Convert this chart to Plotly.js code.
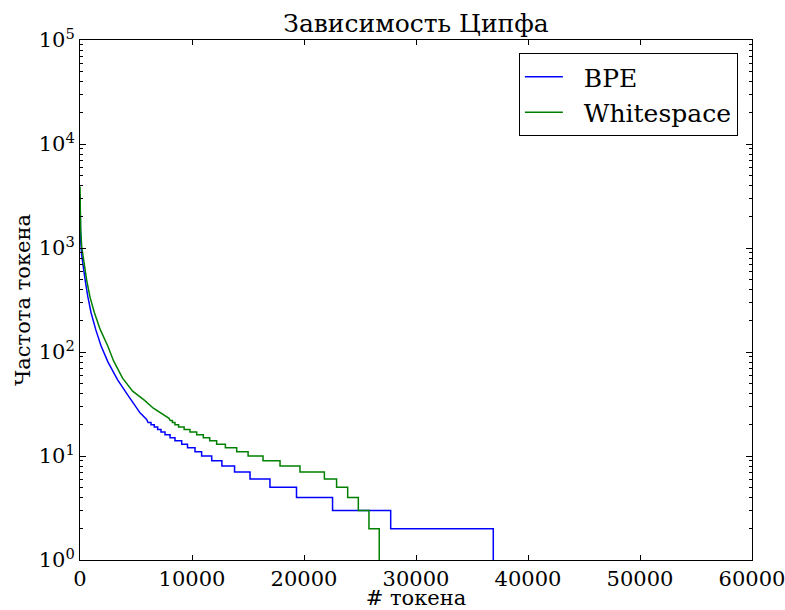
<!DOCTYPE html>
<html><head><meta charset="utf-8">
<script src="https://cdn.plot.ly/plotly-3.0.1.min.js"></script>
<style>body{margin:0;background:#fff}</style>
</head><body><div id="chart" style="width:785px;height:610px"></div>
<script>
// BPE: smooth head (rank, frequency) then integer frequency steps
const bpeHeadRank = [1, 5, 20, 60, 150, 300, 475, 700, 982, 1400, 1875, 2500, 3360, 4300, 5360, 5950];
const bpeHeadFreq = [3300, 2600, 1800, 1200, 850, 620, 480, 340, 240, 165, 115, 80, 54, 38, 26, 22.5];
const bpeStepLevel = [21, 20, 19, 18, 17, 16, 15, 14, 13, 12, 11, 10, 9, 8, 7, 6, 5, 4, 3, 2];
const bpeStepStart = [6080, 6340, 6630, 6930, 7230, 7590, 8040, 8480, 9080, 9600, 10270, 10860, 11760, 12670, 13800, 15180, 16960, 19330, 22550, 27740];
const bpeLastRank = 36900;

// Whitespace
const wsHeadRank = [1, 5, 20, 60, 150, 350, 595, 900, 1280, 1800, 2470, 3000, 3800, 4700, 5740, 6550, 7500, 7950];
const wsHeadFreq = [3900, 3000, 2100, 1500, 1030, 700, 492, 335, 240, 165, 115, 82, 56, 42, 34.5, 28.8, 24.5, 23];
const wsStepLevel = [22, 21, 20, 19, 18, 17, 16, 15, 14, 13, 12, 11, 10, 9, 8, 7, 6, 5, 4, 3, 2];
const wsStepStart = [8050, 8250, 8480, 8800, 9300, 9820, 10420, 11010, 11580, 12200, 12980, 13990, 15010, 16340, 17860, 19640, 21820, 22910, 23900, 24850, 25800];
const wsLastRank = 26720;

const seriesNames = ['BPE', 'Whitespace'];
const xTickVals = [0, 10000, 20000, 30000, 40000, 50000, 60000];
const xTickText = ['0', '10000', '20000', '30000', '40000', '50000', '60000'];
const yTickVals = [1, 10, 100, 1000, 10000, 100000];
const yTickText = ['10<sup>0</sup>', '10<sup>1</sup>', '10<sup>2</sup>', '10<sup>3</sup>', '10<sup>4</sup>', '10<sup>5</sup>'];

function buildSeries(headRank, headFreq, stepLevel, stepStart, lastRank) {
  const x = headRank.slice(), y = headFreq.slice();
  for (let i = 0; i < stepLevel.length; i++) {
    const end = i + 1 < stepLevel.length ? stepStart[i + 1] : lastRank;
    x.push(stepStart[i], end); y.push(stepLevel[i], stepLevel[i]);
  }
  x.push(lastRank); y.push(1);
  return {x, y};
}

const bpe = buildSeries(bpeHeadRank, bpeHeadFreq, bpeStepLevel, bpeStepStart, bpeLastRank);
const ws = buildSeries(wsHeadRank, wsHeadFreq, wsStepLevel, wsStepStart, wsLastRank);

const FONT = '"DejaVu Serif", serif';
const PAD = '\u00a0\u00a0';

const traces = [
  {x: bpe.x, y: bpe.y, name: PAD + seriesNames[0], mode: 'lines', line: {color: '#0000ff', width: 1.5}},
  {x: ws.x, y: ws.y, name: PAD + seriesNames[1], mode: 'lines', line: {color: '#008000', width: 1.5}}
];

const axisCommon = {
  showline: true, linecolor: '#000', linewidth: 1, mirror: 'ticks',
  ticks: 'inside', tickcolor: '#000', showgrid: false, zeroline: false,
  tickfont: {family: FONT, size: 21, color: '#000'}
};

const layout = {
  width: 785, height: 610,
  margin: {l: 80, r: 33, t: 40, b: 50},
  paper_bgcolor: '#fff', plot_bgcolor: '#fff',
  font: {family: FONT, color: '#000'},
  title: {text: 'Зависимость Ципфа', font: {family: FONT, size: 25, color: '#000'}, x: 0.5, xref: 'paper', xanchor: 'center', y: 0.962, yanchor: 'middle'},
  xaxis: Object.assign({}, axisCommon, {
    range: [0, 60000], tickmode: 'array', tickvals: xTickVals, ticktext: xTickText, ticklen: 5,
    ticklabeloverflow: 'allow',
    title: {text: '# токена', font: {family: FONT, size: 21, color: '#000'}, standoff: 3}
  }),
  yaxis: Object.assign({}, axisCommon, {
    type: 'log', range: [0, 5], tickvals: yTickVals, ticktext: yTickText, ticklen: 6,
    minor: {ticks: 'inside', ticklen: 3, tickcolor: '#000', dtick: 'D1', showgrid: false},
    title: {text: 'Частота токена', font: {family: FONT, size: 21, color: '#000'}, standoff: 2}
  }),
  legend: {
    x: 0.979, xanchor: 'right', y: 0.975, yanchor: 'top',
    bordercolor: '#000', borderwidth: 1, bgcolor: '#fff',
    itemwidth: 38,
    font: {family: FONT, size: 25, color: '#000'}
  },
  showlegend: true
};

Plotly.newPlot('chart', traces, layout, {displayModeBar: false, staticPlot: true});
</script>
</body></html>
